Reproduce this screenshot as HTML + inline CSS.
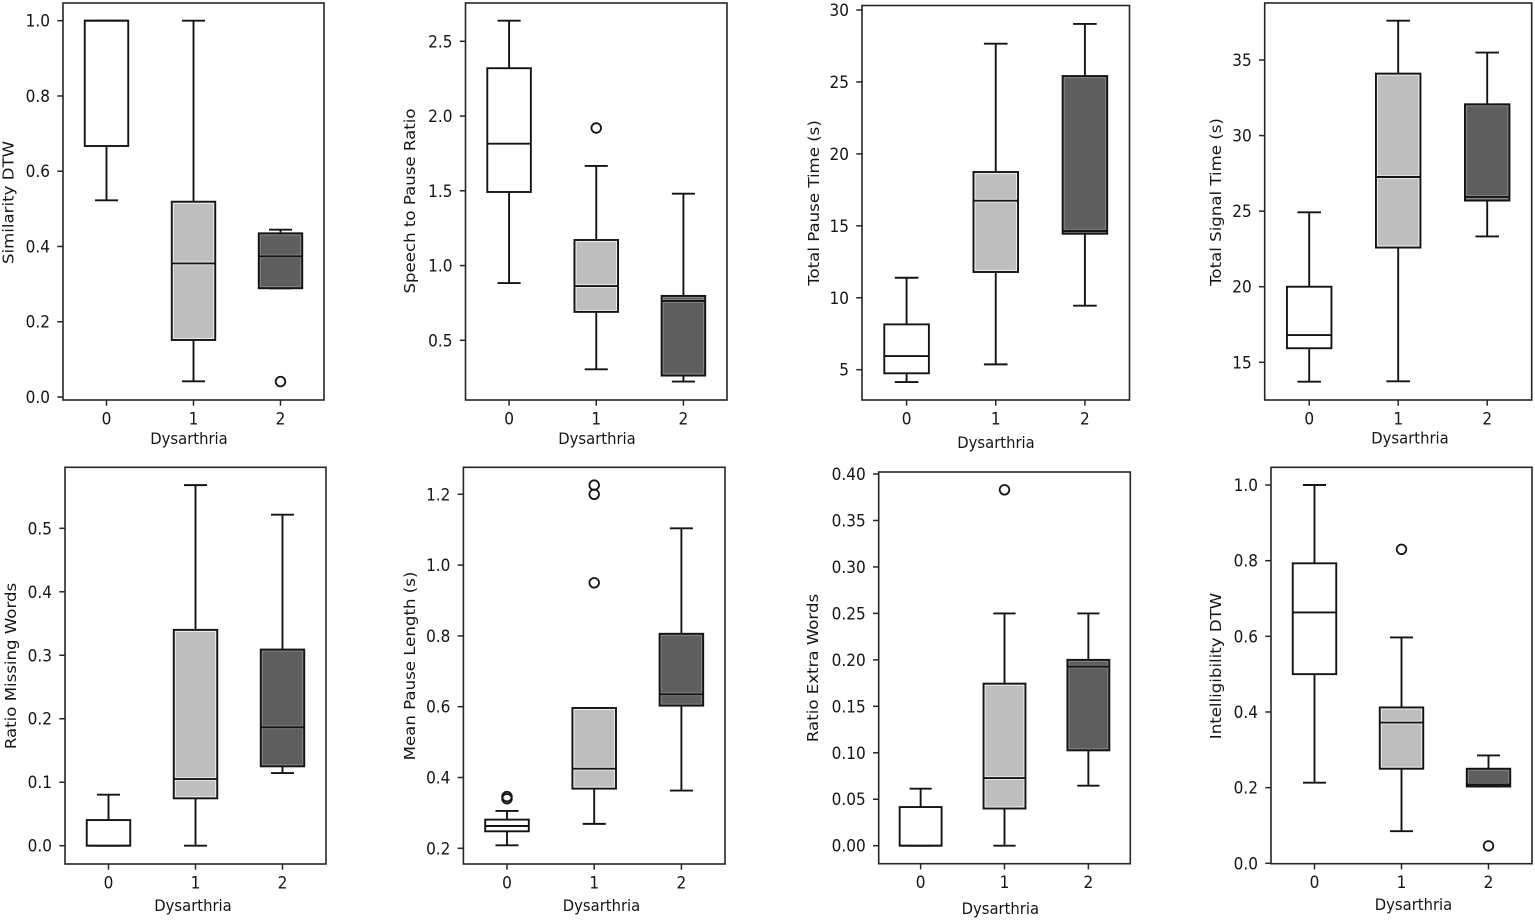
<!DOCTYPE html>
<html lang="en">
<head>
<meta charset="utf-8">
<title>Speech metrics by dysarthria level</title>
<style>
  html, body { margin: 0; padding: 0; background: #fff; }
  body { width: 1535px; height: 920px; overflow: hidden; }
  svg { display: block; }
  text { font-family: "DejaVu Sans", "Liberation Sans", sans-serif; fill: #151515; font-size: 15.3px; }
</style>
</head>
<body>
<svg id="chart" width="1535" height="920" viewBox="0 0 1535 920" xmlns="http://www.w3.org/2000/svg"></svg>
<script>
// ---- Shared categories ----
const categories = ['0', '1', '2'];
const xAxisTitle = 'Dysarthria';

// ---- Data: each group is [whiskerLow, q1, median, q3, whiskerHigh] ----
const similarityStats = [[0.5226, 0.667, 1.0, 1.0, 1.0], [0.0416, 0.1515, 0.355, 0.519, 1.0], [0.289, 0.289, 0.374, 0.435, 0.4446]];
const similarityOutliers = [[], [], [0.041]];
const similarityTicks = ['0.0', '0.2', '0.4', '0.6', '0.8', '1.0'];

const speechPauseStats = [[0.883, 1.492, 1.815, 2.32, 2.638], [0.306, 0.69, 0.863, 1.171, 1.666], [0.224, 0.264, 0.763, 0.797, 1.481]];
const speechPauseOutliers = [[], [1.92], []];
const speechPauseTicks = ['0.5', '1.0', '1.5', '2.0', '2.5'];

const pauseTimeStats = [[4.14, 4.75, 5.95, 8.15, 11.39], [5.37, 11.79, 16.75, 18.74, 27.66], [9.45, 14.45, 14.64, 25.41, 29.03]];
const pauseTimeOutliers = [[], [], []];
const pauseTimeTicks = ['5', '10', '15', '20', '25', '30'];

const signalTimeStats = [[13.72, 15.93, 16.8, 20.0, 24.92], [13.74, 22.59, 27.26, 34.1, 37.6], [23.33, 25.7, 25.94, 32.07, 35.49]];
const signalTimeOutliers = [[], [], []];
const signalTimeTicks = ['15', '20', '25', '30', '35'];

const missingWordsStats = [[0, 0, 0, 0.0404, 0.0804], [0, 0.0746, 0.105, 0.34, 0.568], [0.1145, 0.125, 0.1865, 0.309, 0.5215]];
const missingWordsOutliers = [[], [], []];
const missingWordsTicks = ['0.0', '0.1', '0.2', '0.3', '0.4', '0.5'];

const pauseLengthStats = [[0.2085, 0.248, 0.263, 0.281, 0.3055], [0.269, 0.3685, 0.425, 0.5964, 0.5964], [0.363, 0.603, 0.635, 0.806, 1.104]];
const pauseLengthOutliers = [[0.346, 0.34], [1.226, 1.2, 0.95], []];
const pauseLengthTicks = ['0.2', '0.4', '0.6', '0.8', '1.0', '1.2'];

const extraWordsStats = [[0, 0, 0, 0.0416, 0.0613], [0, 0.04, 0.0728, 0.1744, 0.25], [0.0646, 0.1026, 0.1927, 0.2, 0.25]];
const extraWordsOutliers = [[], [0.383], []];
const extraWordsTicks = ['0.00', '0.05', '0.10', '0.15', '0.20', '0.25', '0.30', '0.35', '0.40'];

const intelligibilityStats = [[0.213, 0.5, 0.663, 0.793, 1.0], [0.085, 0.25, 0.372, 0.412, 0.597], [0.203, 0.203, 0.208, 0.25, 0.285]];
const intelligibilityOutliers = [[], [0.83], [0.046]];
const intelligibilityTicks = ['0.0', '0.2', '0.4', '0.6', '0.8', '1.0'];

// ---- Panel layout: frame in px, and y-axis calibration (value lo, px lo, value hi, px hi) ----
const panels = [
  { id: 'similarity-dtw', title: 'Similarity DTW', stats: similarityStats, outliers: similarityOutliers, ticks: similarityTicks,
    frame: [63, 3, 324, 400], cal: [0, 397, 1, 20.7], xTitle: [189, 444], yTitle: [13.5, 202.5] },
  { id: 'speech-to-pause-ratio', title: 'Speech to Pause Ratio', stats: speechPauseStats, outliers: speechPauseOutliers, ticks: speechPauseTicks,
    frame: [465.5, 3, 727, 400], cal: [0.5, 340.3, 2.5, 41.3], xTitle: [597, 444], yTitle: [415, 201] },
  { id: 'total-pause-time', title: 'Total Pause Time (s)', stats: pauseTimeStats, outliers: pauseTimeOutliers, ticks: pauseTimeTicks,
    frame: [862, 5.5, 1129.5, 400], cal: [5, 369.7, 30, 10], xTitle: [996, 448], yTitle: [819, 203] },
  { id: 'total-signal-time', title: 'Total Signal Time (s)', stats: signalTimeStats, outliers: signalTimeOutliers, ticks: signalTimeTicks,
    frame: [1264.7, 3, 1531.7, 400], cal: [15, 362.3, 35, 60], xTitle: [1410, 443.5], yTitle: [1221, 202] },
  { id: 'ratio-missing-words', title: 'Ratio Missing Words', stats: missingWordsStats, outliers: missingWordsOutliers, ticks: missingWordsTicks,
    frame: [65, 467.3, 326, 864], cal: [0, 845.7, 0.5, 528.3], xTitle: [193, 911], yTitle: [16, 666] },
  { id: 'mean-pause-length', title: 'Mean Pause Length (s)', stats: pauseLengthStats, outliers: pauseLengthOutliers, ticks: pauseLengthTicks,
    frame: [463.4, 467.3, 725, 864], cal: [0.2, 848.3, 1.2, 494.3], xTitle: [601.5, 911], yTitle: [415, 666] },
  { id: 'ratio-extra-words', title: 'Ratio Extra Words', stats: extraWordsStats, outliers: extraWordsOutliers, ticks: extraWordsTicks,
    frame: [878.7, 472, 1130.3, 863.7], cal: [0, 845.7, 0.4, 474], xTitle: [1000.3, 914], yTitle: [818, 668] },
  { id: 'intelligibility-dtw', title: 'Intelligibility DTW', stats: intelligibilityStats, outliers: intelligibilityOutliers, ticks: intelligibilityTicks,
    frame: [1271, 467.3, 1532, 863.7], cal: [0, 863.3, 1, 485], xTitle: [1413.5, 910], yTitle: [1221, 666] }
];

const groupFills = ['#ffffff', '#bebebe', '#5e5e5e'];
const groupHalos = ['#ffffff', '#ececec', '#858585'];
const INK = '#141414';
const V_STRETCH = 1.1;
const NS = 'http://www.w3.org/2000/svg';
const root = document.getElementById('chart');

function mk(tag, attrs, parent) {
  const el = document.createElementNS(NS, tag);
  for (const k in attrs) el.setAttribute(k, attrs[k]);
  parent.appendChild(el);
  return el;
}

panels.forEach(function (p) {
  const l = p.frame[0], t = p.frame[1], r = p.frame[2], b = p.frame[3];
  const yScale = function (v) {
    return p.cal[1] + (v - p.cal[0]) * (p.cal[3] - p.cal[1]) / (p.cal[2] - p.cal[0]);
  };
  const xScale = function (i) {
    return l + (r - l) * (i + 0.5) / categories.length;
  };
  const boxW = (r - l) / categories.length * 0.5;
  const capW = boxW * 0.53;

  const g = mk('g', {}, root);
  
  

  p.stats.forEach(function (s, i) {
    const cx = xScale(i);
    const box = mk('g', {}, g);
    
    

    const lineStyle = { stroke: INK, 'stroke-width': 1.9, fill: 'none' };

    const whiskerLow = mk('line', Object.assign({ x1: cx, x2: cx, y1: yScale(s[0]), y2: yScale(s[1]) }, lineStyle), box);
    
    

    const whiskerHigh = mk('line', Object.assign({ x1: cx, x2: cx, y1: yScale(s[3]), y2: yScale(s[4]) }, lineStyle), box);
    
    

    const capLow = mk('line', Object.assign({ x1: cx - capW / 2, x2: cx + capW / 2, y1: yScale(s[0]), y2: yScale(s[0]) }, lineStyle), box);
    
    

    const capHigh = mk('line', Object.assign({ x1: cx - capW / 2, x2: cx + capW / 2, y1: yScale(s[4]), y2: yScale(s[4]) }, lineStyle), box);
    
    

    const top = yScale(s[3]), bot = yScale(s[1]);
    const rect = mk('rect', { x: cx - boxW / 2, y: top, width: boxW, height: bot - top, fill: groupFills[i] }, box);
    
    

    if (i > 0 && bot - top > 3.5) {
      const halo = mk('rect', { x: cx - boxW / 2 + 1.6, y: top + 1.6, width: boxW - 3.2, height: bot - top - 3.2, fill: 'none', stroke: groupHalos[i], 'stroke-width': 1 }, box);
      
      

      const medHalo = mk('line', { x1: cx - boxW / 2 + 1, x2: cx + boxW / 2 - 1, y1: yScale(s[2]), y2: yScale(s[2]), stroke: groupHalos[i], 'stroke-width': 3.6 }, box);
      
      
    }

    const edge = mk('rect', { x: cx - boxW / 2, y: top, width: boxW, height: bot - top, fill: 'none', stroke: INK, 'stroke-width': 1.9 }, box);
    
    

    const median = mk('line', Object.assign({ x1: cx - boxW / 2, x2: cx + boxW / 2, y1: yScale(s[2]), y2: yScale(s[2]) }, lineStyle), box);
    
    

    p.outliers[i].forEach(function (v) {
      const dot = mk('circle', { cx: cx, cy: yScale(v), r: 4.8, fill: 'none', stroke: INK, 'stroke-width': 1.8 }, box);
      
      
    });
  });

  const frame = mk('rect', { x: l, y: t, width: r - l, height: b - t, fill: 'none', stroke: '#262626', 'stroke-width': 1.6 }, g);
  
  

  p.ticks.forEach(function (label) {
    const py = yScale(parseFloat(label));
    const tick = mk('line', { x1: l - 5.7, x2: l, y1: py, y2: py, stroke: '#262626', 'stroke-width': 1.5 }, g);
    
    

    const tl = mk('text', { 'text-anchor': 'end', transform: 'translate(' + (l - 13) + ' ' + (py + 6) + ') scale(1 ' + V_STRETCH + ')' }, g);
    tl.textContent = label;
    
    
  });

  categories.forEach(function (label, i) {
    const px = xScale(i);
    const tick = mk('line', { x1: px, x2: px, y1: b, y2: b + 5.7, stroke: '#262626', 'stroke-width': 1.5 }, g);
    
    

    const tl = mk('text', { 'text-anchor': 'middle', transform: 'translate(' + px + ' ' + (b + 24.3) + ') scale(1 ' + V_STRETCH + ')' }, g);
    tl.textContent = label;
    
    
  });

  const xt = mk('text', { 'text-anchor': 'middle', style: 'font-size:14.8px', transform: 'translate(' + p.xTitle[0] + ' ' + p.xTitle[1] + ') scale(1 ' + V_STRETCH + ')' }, g);
  xt.textContent = xAxisTitle;
  
  

  const yt = mk('text', { 'text-anchor': 'middle', style: 'font-size:15.1px', transform: 'translate(' + p.yTitle[0] + ' ' + p.yTitle[1] + ') rotate(-90) scale(' + V_STRETCH + ' 1)' }, g);
  yt.textContent = p.title;
  
  
});
</script>
</body>
</html>
